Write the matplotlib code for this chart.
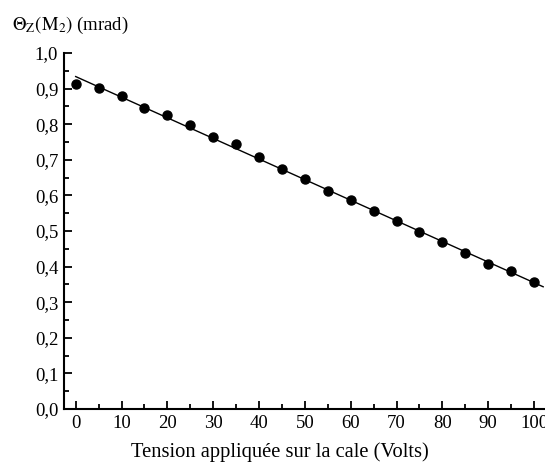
import numpy as np
import matplotlib
matplotlib.use('Agg')
import matplotlib.pyplot as plt
from matplotlib.ticker import MultipleLocator, FuncFormatter

# measured points
tension = [0, 5, 10, 15, 20, 25, 30, 35, 40, 45, 50, 55, 60, 65, 70, 75, 80, 85, 90, 95, 100]
theta_z = [0.912, 0.903, 0.880, 0.845, 0.825, 0.797, 0.763, 0.745, 0.708, 0.673, 0.645,
           0.612, 0.587, 0.555, 0.527, 0.497, 0.468, 0.437, 0.408, 0.387, 0.357]

plt.rcParams['font.family'] = ['Liberation Serif', 'DejaVu Serif']
plt.rcParams['mathtext.fontset'] = 'stix'

fig = plt.figure(figsize=(5.45, 4.63), dpi=100)
ax = fig.add_axes([0.117, 0.1166, 0.883, 0.769])

# linear fit of the points
a, b = np.polyfit(tension, theta_z, 1)
xfit = np.array([0, 102])
ax.plot(xfit, a * xfit + b, color='black', lw=1)
ax.plot(tension, theta_z, 'o', color='black', markersize=6.5)

ax.set_xlim(-2.6, 102.4)
ax.set_ylim(0, 1.0)
ax.spines['top'].set_visible(False)
ax.spines['right'].set_visible(False)
for s in ['left', 'bottom']:
    ax.spines[s].set_linewidth(1.5)

ax.xaxis.set_major_locator(MultipleLocator(10))
ax.xaxis.set_minor_locator(MultipleLocator(5))
ax.yaxis.set_major_locator(MultipleLocator(0.1))
ax.yaxis.set_minor_locator(MultipleLocator(0.05))
ax.yaxis.set_major_formatter(FuncFormatter(lambda v, p: f'{v:.1f}'.replace('.', ',')))
ax.tick_params(which='major', direction='in', length=6, width=1.3, labelsize=13.5, pad=4)
ax.tick_params(which='minor', direction='in', length=3.5, width=1.3)

ax.set_xlabel('Tension appliquée sur la cale (Volts)', fontsize=14.8)
ax.xaxis.set_label_coords(0.449, -0.093)
fig.text(0.022, 0.945, r'$\mathrm{\Theta_Z(M_2)}$ (mrad)', fontsize=13.5, va='center', ha='left')

fig.savefig('out.png', dpi=100)
